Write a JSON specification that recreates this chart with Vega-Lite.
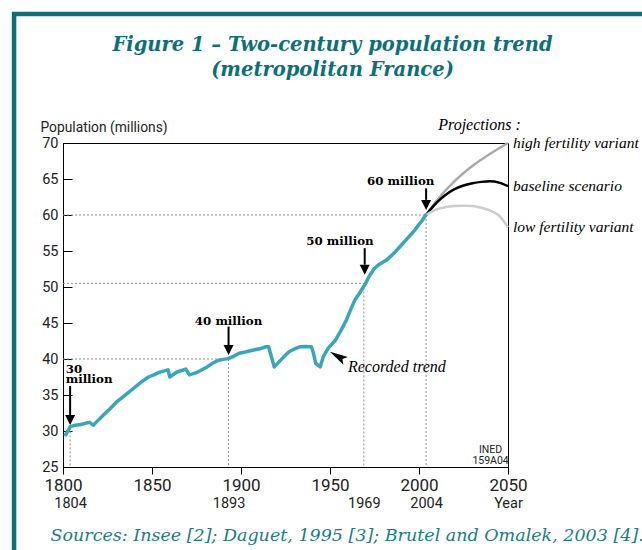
{
  "$schema": "https://vega.github.io/schema/vega-lite/v6.json",
  "width": 445,
  "height": 324,
  "autosize": "none",
  "padding": {"left": 63, "top": 143, "right": 134, "bottom": 83},
  "background": "white",
  "config": {"view": {"stroke": "black", "strokeWidth": 1}, "font": "Roboto"},
  "title": {
    "text": ["Figure 1 – Two-century population trend", "(metropolitan France)"],
    "font": "DejaVu Serif",
    "fontStyle": "italic",
    "fontWeight": "bold",
    "fontSize": 19.5,
    "color": "#0f6e77",
    "anchor": "middle",
    "frame": "group",
    "dx": 47,
    "offset": -86,
    "lineHeight": 25,
    "baseline": "alphabetic"
  },
  "resolve": {"axis": {"x": "independent", "y": "independent"}},
  "layer": [
    {
      "data": {"values": [{}]},
      "mark": {"type": "rule", "color": "#0f6e77", "strokeWidth": 4.5, "strokeCap": "butt"},
      "encoding": {
        "x": {"datum": 1772.5, "type": "quantitative", "axis": null},
        "y": {"datum": 88.2, "type": "quantitative", "axis": null},
        "y2": {"datum": 12}
      }
    },
    {
      "data": {"values": [{}]},
      "mark": {"type": "rule", "color": "#0f6e77", "strokeWidth": 4.5, "strokeCap": "butt"},
      "encoding": {
        "x": {"datum": 1771.35, "type": "quantitative", "axis": null},
        "x2": {"datum": 2135},
        "y": {"datum": 87.92, "type": "quantitative", "axis": null}
      }
    },
    {
      "data": {"values": [
        {"year": 1804, "year2": 1804, "value": 30.5, "value2": 25},
        {"year": 1800, "year2": 1893, "value": 40, "value2": 40},
        {"year": 1893, "year2": 1893, "value": 40, "value2": 25},
        {"year": 1800, "year2": 1969, "value": 50.5, "value2": 50.5},
        {"year": 1969, "year2": 1969, "value": 50.5, "value2": 25},
        {"year": 1800, "year2": 2004, "value": 60, "value2": 60},
        {"year": 2004, "year2": 2004, "value": 60, "value2": 25}
      ]},
      "mark": {"type": "rule", "color": "#8f8f8f", "strokeWidth": 1, "strokeDash": [2, 2]},
      "encoding": {
        "x": {"field": "year", "type": "quantitative",
          "axis": {
            "orient": "bottom",
            "values": [1804, 1893, 1969, 2004, 2050],
            "format": "d",
            "labelExpr": "datum.value == 2050 ? 'Year' : datum.label",
            "ticks": false,
            "domain": false,
            "grid": false,
            "labelPadding": 29.5,
            "labelFlush": false,
            "labelOverlap": false,
            "labelFontSize": 14.5,
            "labelColor": "#222",
            "labelFont": "Roboto",
            "title": "Sources: Insee [2]; Daguet, 1995 [3]; Brutel and Omalek, 2003 [4].",
            "titleFont": "DejaVu Serif",
            "titleFontStyle": "italic",
            "titleFontWeight": "normal",
            "titleFontSize": 17.5,
            "titleColor": "#1e7b84",
            "titleAlign": "left",
            "titleAnchor": "start",
            "titleBaseline": "alphabetic",
            "titleX": -13,
            "titleY": 73
          }},
        "x2": {"field": "year2"},
        "y": {"field": "value", "type": "quantitative", "axis": null},
        "y2": {"field": "value2"}
      }
    },
    {
      "data": {"values": [
        {"scenario": "high fertility variant", "year": 2004, "value": 60.0},
        {"scenario": "high fertility variant", "year": 2010, "value": 62.0},
        {"scenario": "high fertility variant", "year": 2020, "value": 64.7},
        {"scenario": "high fertility variant", "year": 2030, "value": 66.8},
        {"scenario": "high fertility variant", "year": 2040, "value": 68.5},
        {"scenario": "high fertility variant", "year": 2050, "value": 70.0},
        {"scenario": "baseline scenario", "year": 2004, "value": 60.0},
        {"scenario": "baseline scenario", "year": 2008, "value": 61.2},
        {"scenario": "baseline scenario", "year": 2012, "value": 62.2},
        {"scenario": "baseline scenario", "year": 2016, "value": 63.0},
        {"scenario": "baseline scenario", "year": 2020, "value": 63.6},
        {"scenario": "baseline scenario", "year": 2025, "value": 64.1},
        {"scenario": "baseline scenario", "year": 2030, "value": 64.4},
        {"scenario": "baseline scenario", "year": 2035, "value": 64.6},
        {"scenario": "baseline scenario", "year": 2040, "value": 64.7},
        {"scenario": "baseline scenario", "year": 2045, "value": 64.5},
        {"scenario": "baseline scenario", "year": 2050, "value": 64.0},
        {"scenario": "low fertility variant", "year": 2004, "value": 60.0},
        {"scenario": "low fertility variant", "year": 2010, "value": 60.8},
        {"scenario": "low fertility variant", "year": 2015, "value": 61.1},
        {"scenario": "low fertility variant", "year": 2020, "value": 61.25},
        {"scenario": "low fertility variant", "year": 2025, "value": 61.3},
        {"scenario": "low fertility variant", "year": 2030, "value": 61.25},
        {"scenario": "low fertility variant", "year": 2035, "value": 61.0},
        {"scenario": "low fertility variant", "year": 2040, "value": 60.6},
        {"scenario": "low fertility variant", "year": 2045, "value": 59.9},
        {"scenario": "low fertility variant", "year": 2050, "value": 58.3}
      ]},
      "layer": [
        {
          "mark": {"type": "line", "strokeWidth": 2.5, "interpolate": "monotone"},
          "encoding": {
            "x": {"field": "year", "type": "quantitative", "axis": null},
            "y": {"field": "value", "type": "quantitative",
              "axis": {
                "orient": "right",
                "values": [30, 35, 40, 45, 50, 55, 60, 65],
                "tickSize": -8,
                "tickColor": "black",
                "labels": false,
                "domain": false,
                "grid": false,
                "title": null
              }},
            "color": {"field": "scenario", "type": "nominal",
              "scale": {"domain": ["high fertility variant", "baseline scenario", "low fertility variant"],
                        "range": ["#a9a9a9", "#000000", "#cdcdcd"]},
              "legend": null}
          }
        },
        {
          "transform": [{"filter": "datum.year == 2050"}],
          "mark": {"type": "text", "align": "left", "baseline": "middle", "dx": 5,
                   "font": "Liberation Serif", "fontStyle": "italic", "fontSize": 15.5, "color": "black"},
          "encoding": {
            "x": {"field": "year", "type": "quantitative", "axis": null},
            "y": {"field": "value", "type": "quantitative", "axis": null},
            "text": {"field": "scenario"}
          }
        }
      ]
    },
    {
      "data": {"values": [
        {"year": 1801, "value": 29.3}, {"year": 1803, "value": 30.1}, {"year": 1804, "value": 30.6},
        {"year": 1807, "value": 30.8}, {"year": 1810, "value": 30.9}, {"year": 1813, "value": 31.1},
        {"year": 1815, "value": 31.2}, {"year": 1817, "value": 30.8}, {"year": 1819, "value": 31.3},
        {"year": 1823, "value": 32.3}, {"year": 1826, "value": 33.0}, {"year": 1830, "value": 34.0},
        {"year": 1833, "value": 34.6}, {"year": 1836, "value": 35.2}, {"year": 1839, "value": 35.8},
        {"year": 1842, "value": 36.4}, {"year": 1845, "value": 37.0}, {"year": 1848, "value": 37.5},
        {"year": 1851, "value": 37.8}, {"year": 1854, "value": 38.15}, {"year": 1857, "value": 38.35},
        {"year": 1859, "value": 38.5}, {"year": 1860, "value": 37.5}, {"year": 1864, "value": 38.2},
        {"year": 1869, "value": 38.6}, {"year": 1871, "value": 37.8}, {"year": 1875, "value": 38.1},
        {"year": 1878, "value": 38.5}, {"year": 1881, "value": 38.9}, {"year": 1884, "value": 39.4},
        {"year": 1887, "value": 39.8}, {"year": 1890, "value": 39.95}, {"year": 1893, "value": 40.05},
        {"year": 1896, "value": 40.4}, {"year": 1899, "value": 40.8}, {"year": 1903, "value": 41.0},
        {"year": 1907, "value": 41.25}, {"year": 1911, "value": 41.45}, {"year": 1914, "value": 41.7},
        {"year": 1915.5, "value": 41.7}, {"year": 1918.7, "value": 38.9}, {"year": 1921, "value": 39.5},
        {"year": 1924, "value": 40.3}, {"year": 1927, "value": 41.0}, {"year": 1930, "value": 41.4},
        {"year": 1933, "value": 41.7}, {"year": 1936, "value": 41.75}, {"year": 1939.5, "value": 41.7},
        {"year": 1940.5, "value": 41.0}, {"year": 1942, "value": 39.4}, {"year": 1944.5, "value": 38.9},
        {"year": 1946.2, "value": 40.3}, {"year": 1949, "value": 41.5}, {"year": 1953, "value": 42.6},
        {"year": 1956, "value": 43.9}, {"year": 1959, "value": 45.3}, {"year": 1962, "value": 47.1},
        {"year": 1964, "value": 48.2}, {"year": 1967, "value": 49.3}, {"year": 1970, "value": 50.5},
        {"year": 1972, "value": 51.5}, {"year": 1975, "value": 52.6}, {"year": 1978, "value": 53.2},
        {"year": 1982, "value": 53.8}, {"year": 1986, "value": 54.7}, {"year": 1990, "value": 55.8},
        {"year": 1994, "value": 56.9}, {"year": 1997, "value": 57.7}, {"year": 2000, "value": 58.7},
        {"year": 2002, "value": 59.3}, {"year": 2004, "value": 60.1}
      ]},
      "mark": {"type": "line", "color": "#3ba6b8", "strokeWidth": 3.5, "strokeJoin": "round"},
      "encoding": {
        "x": {"field": "year", "type": "quantitative",
          "scale": {"domain": [1800, 2050], "nice": false, "zero": false},
          "axis": {
            "orient": "bottom",
            "values": [1800, 1850, 1900, 1950, 2000, 2050],
            "format": "d",
            "tickSize": 7,
            "tickColor": "black",
            "domainColor": "black",
            "labelPadding": 3,
            "labelFlush": false,
            "labelOverlap": false,
            "labelFontSize": 17,
            "labelColor": "#222",
            "labelFont": "Roboto",
            "grid": false,
            "title": null
          }},
        "y": {"field": "value", "type": "quantitative",
          "scale": {"domain": [25, 70], "nice": false, "zero": false},
          "axis": {
            "values": [25, 30, 35, 40, 45, 50, 55, 60, 65, 70],
            "tickSize": -9,
            "tickColor": "black",
            "domainColor": "black",
            "labelPadding": 14,
            "labelFontSize": 14.5,
            "labelColor": "#222",
            "labelFont": "Roboto",
            "grid": false,
            "title": "Population (millions)",
            "titleAngle": 0,
            "titleAlign": "left",
            "titleBaseline": "alphabetic",
            "titleX": -23,
            "titleY": -12,
            "titleFont": "Roboto",
            "titleFontWeight": "normal",
            "titleFontSize": 13.8,
            "titleColor": "#222"
          }}
      }
    },
    {
      "data": {"values": [
        {"year": 1804, "top": 36.25, "base": 32.2, "tip": 30.83},
        {"year": 1893, "top": 44.5, "base": 41.9, "tip": 40.55},
        {"year": 1969.5, "top": 55.4, "base": 53.1, "tip": 51.7},
        {"year": 2004, "top": 63.7, "base": 62.1, "tip": 60.7}
      ]},
      "layer": [
        {
          "mark": {"type": "rule", "color": "black", "strokeWidth": 2},
          "encoding": {
            "x": {"field": "year", "type": "quantitative", "axis": null},
            "y": {"field": "top", "type": "quantitative", "axis": null},
            "y2": {"field": "base"}
          }
        },
        {
          "mark": {"type": "point", "shape": "M-0.5,-1L0.5,-1L0,0Z", "size": 400, "filled": true, "color": "black", "opacity": 1, "strokeWidth": 0},
          "encoding": {
            "x": {"field": "year", "type": "quantitative", "axis": null},
            "y": {"field": "tip", "type": "quantitative", "axis": null}
          }
        }
      ]
    },
    {
      "data": {"values": [{"year": 1950, "value": 41.0}]},
      "mark": {"type": "point", "shape": "M0,0L1,-0.25L0.8,0L1,0.25Z", "size": 1300, "angle": 30, "filled": true, "color": "black", "opacity": 1, "strokeWidth": 0},
      "encoding": {
        "x": {"field": "year", "type": "quantitative", "axis": null},
        "y": {"field": "value", "type": "quantitative", "axis": null}
      }
    },
    {
      "data": {"values": [
        {"year": 1893, "value": 44.72, "label": "40 million"},
        {"year": 1955.6, "value": 55.83, "label": "50 million"},
        {"year": 1989.7, "value": 64.17, "label": "60 million"}
      ]},
      "mark": {"type": "text", "align": "center", "baseline": "alphabetic", "font": "DejaVu Serif", "fontWeight": "bold", "fontSize": 11.8, "color": "black"},
      "encoding": {
        "x": {"field": "year", "type": "quantitative", "axis": null},
        "y": {"field": "value", "type": "quantitative", "axis": null},
        "text": {"field": "label"}
      }
    },
    {
      "data": {"values": [{"year": 1801.5, "value": 38.1, "label": "30\nmillion"}]},
      "mark": {"type": "text", "align": "left", "baseline": "top", "lineBreak": "\n", "lineHeight": 10.5, "dy": -9, "font": "DejaVu Serif", "fontWeight": "bold", "fontSize": 11.8, "color": "black"},
      "encoding": {
        "x": {"field": "year", "type": "quantitative", "axis": null},
        "y": {"field": "value", "type": "quantitative", "axis": null},
        "text": {"field": "label"}
      }
    },
    {
      "data": {"values": [
        {"year": 1960.1, "value": 38.24, "label": "Recorded trend"},
        {"year": 2010.8, "value": 71.8, "label": "Projections :"}
      ]},
      "mark": {"type": "text", "align": "left", "baseline": "alphabetic", "font": "Liberation Serif", "fontStyle": "italic", "fontSize": 16, "color": "black"},
      "encoding": {
        "x": {"field": "year", "type": "quantitative", "axis": null},
        "y": {"field": "value", "type": "quantitative", "axis": null},
        "text": {"field": "label"}
      }
    },
    {
      "data": {"values": [{"year": 2040.2, "value": 26.94, "label": "INED\n159A04"}]},
      "mark": {"type": "text", "align": "center", "baseline": "top", "dy": -8.5, "lineBreak": "\n", "lineHeight": 11.5, "font": "Roboto", "fontSize": 10.5, "color": "#222"},
      "encoding": {
        "x": {"field": "year", "type": "quantitative", "axis": null},
        "y": {"field": "value", "type": "quantitative", "axis": null},
        "text": {"field": "label"}
      }
    }
  ]
}
